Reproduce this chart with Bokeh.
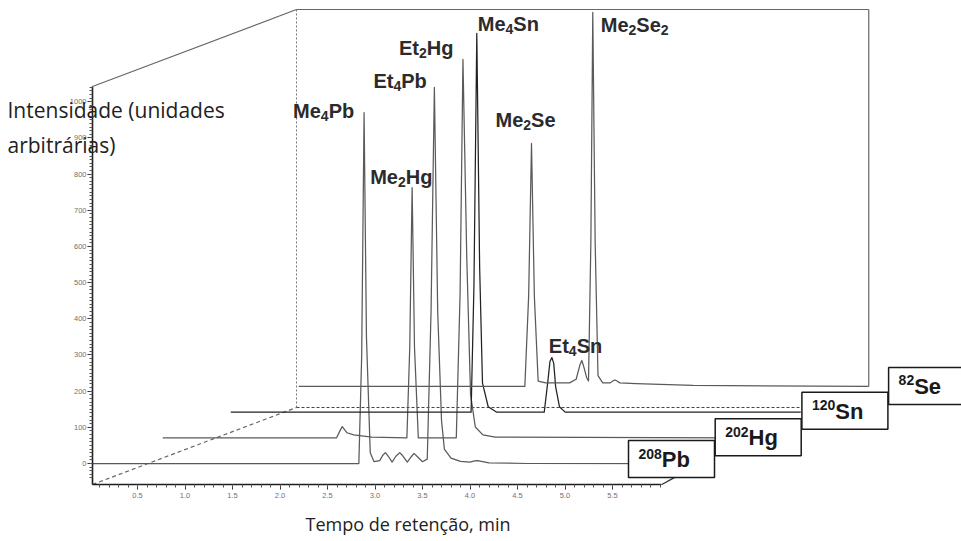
from bokeh.plotting import figure
from bokeh.models import ColumnDataSource, FixedTicker, PrintfTickFormatter, Label, Range1d
from bokeh.embed import file_html
from bokeh.resources import INLINE
from bokeh.core.properties import value

# ---------------- data ----------------
# traces, front (208Pb) to back (82Se); time in min, intensity in arbitrary units
isotope_mass = ["208", "202", "120", "82"]
isotope_element = ["Pb", "Hg", "Sn", "Se"]

pb_time = [0.03, 2.83, 2.86, 2.885, 2.91, 2.95, 2.99, 3.05, 3.08, 3.11, 3.14, 3.18, 3.22, 3.26,
           3.29, 3.34, 3.38, 3.41, 3.45, 3.50, 3.55, 3.59, 3.625, 3.66, 3.70, 3.73, 3.80,
           3.90, 4.00, 4.05, 4.08, 4.12, 4.20, 4.60, 6.05]
pb_intensity = [0, 0, 300, 970, 350, 30, 5, 8, 22, 30, 20, 4, 20, 30,
                22, 4, 18, 28, 18, 5, 12, 420, 1040, 420, 120, 40, 15,
                6, 4, 7, 8, 6, 2, 0, 0]

hg_time = [0.05, 1.88, 1.92, 1.94, 1.96, 1.99, 2.06, 2.25, 2.62, 2.65, 2.675, 2.70, 2.74,
           3.14, 3.18, 3.21, 3.25, 3.29, 3.34, 3.42, 3.55, 6.05]
hg_intensity = [0, 0, 22, 31, 24, 14, 8, 2, 0, 250, 692, 250, 0,
                0, 400, 1046, 500, 120, 30, 8, 2, 0]

sn_time = [0.05, 2.58, 2.61, 2.64, 2.67, 2.70, 2.76, 2.85, 3.35, 3.39, 3.41, 3.43, 3.45,
           3.47, 3.51, 3.57, 6.05]
sn_intensity = [0, 0, 350, 1047, 400, 80, 15, 0, 0, 90, 140, 151, 135, 70, 15, 0, 0]

se_time = [0.05, 2.43, 2.47, 2.50, 2.53, 2.57, 2.65, 2.90, 2.97, 3.01, 3.03, 3.05, 3.08,
           3.10, 3.125, 3.145, 3.17, 3.20, 3.25, 3.33, 3.36, 3.38, 3.40, 3.43, 3.60, 4.20, 6.05]
se_intensity = [0, 0, 250, 672, 250, 15, 10, 10, 20, 60, 72, 55, 25,
                15, 400, 1034, 400, 30, 10, 10, 16, 18, 15, 10, 8, 3, 0]

# peak labels: text parts (text, is_subscript), trace index, retention time of apex
peak_labels = [
    [("Me", 0), ("4", 1), ("Pb", 0)],
    [("Me", 0), ("2", 1), ("Hg", 0)],
    [("Et", 0), ("4", 1), ("Pb", 0)],
    [("Et", 0), ("2", 1), ("Hg", 0)],
    [("Me", 0), ("4", 1), ("Sn", 0)],
    [("Me", 0), ("2", 1), ("Se", 0)],
    [("Et", 0), ("4", 1), ("Sn", 0)],
    [("Me", 0), ("2", 1), ("Se", 0), ("2", 1)],
]
peak_trace = [0, 1, 0, 1, 2, 3, 2, 3]
peak_time = [2.885, 2.675, 3.625, 3.21, 2.64, 2.50, 3.43, 3.145]

x_major_ticks = [0.5, 1.0, 1.5, 2.0, 2.5, 3.0, 3.5, 4.0, 4.5, 5.0, 5.5]
x_minor_ticks = [round(0.1 * i, 1) for i in range(1, 61)]
y_major_ticks = [0, 100, 200, 300, 400, 500, 600, 700, 800, 900, 1000]
y_minor_ticks = [v for v in range(-40, 1041, 10)]

y_title = ["Intensidade (unidades", "arbitrárias)"]
x_title = "Tempo de retenção, min"

# ---------------- layout / styling ----------------
W, H = 961, 541
X0_PAGE, SX = 89.5, 95.0      # screen x of t=0, px per minute
Y0_PAGE, SY = 463.0, 0.3617   # screen y of I=0, px per unit
DEPTH_DX, DEPTH_DY = 68.0, 25.67
TEXT_SHIFT = -7               # baseline correction (px)


def tx(px):
    return (px - X0_PAGE) / SX


def iy(py):
    return (Y0_PAGE - py) / SY


DT = DEPTH_DX / SX
DI = DEPTH_DY / SY
AXIS_X_PX, AXIS_Y_PX = 92, 484
T_MIN, T_AXIS_END, T_BOX_END = tx(AXIS_X_PX), 6.02, 6.05
I_MIN, I_TOP = iy(AXIS_Y_PX), iy(86)

LINE_COL = "#5a5a5a"

p = figure(width=W, height=H,
           x_range=Range1d(tx(0), tx(W)),
           y_range=Range1d(iy(H), iy(0)),
           output_backend="svg", toolbar_location=None,
           min_border=0, min_border_left=0, min_border_right=0,
           min_border_top=0, min_border_bottom=0)
p.xgrid.visible = False
p.ygrid.visible = False
p.outline_line_color = None
p.background_fill_color = "white"
p.border_fill_color = "white"

# axes, drawn at the front corner of the 3D box
for ax in (p.xaxis[0], p.yaxis[0]):
    ax.axis_line_color = "#1e1e1e"
    ax.axis_line_width = 1.6
    ax.major_tick_line_color = "#333"
    ax.minor_tick_line_color = "#555"
    ax.major_tick_in = 0
    ax.minor_tick_in = 0
    ax.major_tick_out = 5
    ax.minor_tick_out = 3
    ax.major_label_text_font = "Liberation Sans"
    ax.major_label_text_font_size = "7.5px"
    ax.major_label_text_color = "#707070"

p.xaxis.fixed_location = I_MIN
p.xaxis.bounds = (T_MIN, T_AXIS_END)
p.xaxis.ticker = FixedTicker(ticks=x_major_ticks, minor_ticks=x_minor_ticks)
p.xaxis.formatter = PrintfTickFormatter(format="%.1f")
p.xaxis.major_label_standoff = 3
p.yaxis.fixed_location = T_MIN
p.yaxis.bounds = (I_MIN, I_TOP)
p.yaxis.ticker = FixedTicker(ticks=y_major_ticks, minor_ticks=y_minor_ticks)
p.yaxis.major_label_standoff = 1

# end of the time axis bends up to the 208Pb box
p.line([T_AXIS_END, T_AXIS_END + 0.13], [I_MIN, I_MIN + 19], line_color="#333", line_width=1.3)

# 3D box
bt0, bi0 = T_MIN + 3 * DT, I_MIN + 3 * DI
btop = I_TOP + 3 * DI
bt1 = T_BOX_END + 3 * DT
p.line([T_MIN, bt0], [I_TOP, btop], line_color="#666", line_width=1.2)
p.line([T_MIN, bt0], [I_MIN, bi0], line_color="#666", line_width=1.2, line_dash="4 3")
p.line([bt0, bt0], [bi0, btop], line_color="#777", line_width=1, line_dash="2 2")
p.line([bt0, bt1], [btop, btop], line_color="#666", line_width=1.2)
p.line([bt1, bt1], [btop, 3 * DI], line_color="#666", line_width=1.2)
p.line([bt0, bt1], [bi0, bi0], line_color="#444", line_width=1, line_dash="3 2")

# traces
traces = [(pb_time, pb_intensity), (hg_time, hg_intensity),
          (sn_time, sn_intensity), (se_time, se_intensity)]
trace_cols = [LINE_COL, LINE_COL, "#222", LINE_COL]
for k, (ts, vs) in enumerate(traces):
    p.line([t + k * DT for t in ts], [v + k * DI for v in vs],
           line_color=trace_cols[k], line_width=1.25, line_join="round")

# peak labels
ARIAL_BOLD = {"M": 833, "e": 556, "P": 667, "b": 611, "E": 667, "t": 333, "H": 722,
              "g": 611, "S": 667, "n": 611, "0": 556, "1": 556, "2": 556, "3": 556,
              "4": 556, "5": 556, "6": 556, "7": 556, "8": 556, "9": 556}


def twidth(s, size):
    return sum(ARIAL_BOLD.get(c, 600) for c in s) * size / 1000.0


MAIN_SIZE, SUB_SIZE, SUB_DROP = 20, 14, 5
label_offsets = [(-71, 5), (-42, -4), (-61, 1), (-64, -4), (1, -2), (-36, -16), (-3, -5), (8, 20)]

lx, ly, ltxt, ldx, ldy, lsize = [], [], [], [], [], []
for parts, k, t, (ox, oy) in zip(peak_labels, peak_trace, peak_time, label_offsets):
    ts, vs = traces[k]
    apex = vs[ts.index(t)]
    cx = ox
    for s, sub in parts:
        size = SUB_SIZE if sub else MAIN_SIZE
        lx.append(t + k * DT)
        ly.append(apex + k * DI)
        ltxt.append(s)
        ldx.append(cx)
        ldy.append(oy + TEXT_SHIFT + (SUB_DROP if sub else 0))
        lsize.append(f"{size}px")
        cx += twidth(s, size)

src = ColumnDataSource(dict(x=lx, y=ly, text=ltxt, dx=ldx, dy=ldy, size=lsize))
p.text(x="x", y="y", text="text", source=src, x_offset="dx", y_offset="dy",
       text_font=value("Liberation Sans"), text_font_style="bold", text_font_size="size",
       text_color="#2b2b2b", text_baseline="alphabetic", text_align="left")

# isotope boxes
BOX_W, BOX_H = 86, 37
box_left_px = [628 + 86.7 * k for k in range(4)]
box_nudge = [-4, 0, -1, 0]
bl, br, bt, bb = [], [], [], []
for k in range(4):
    base_py = Y0_PAGE - k * DEPTH_DY
    top_py = base_py - 19 + box_nudge[k]
    bl.append(tx(box_left_px[k]))
    br.append(tx(box_left_px[k] + BOX_W))
    bt.append(iy(top_py))
    bb.append(iy(top_py + BOX_H))
p.quad(left=bl, right=br, top=bt, bottom=bb, fill_color="white",
       line_color="#1a1a1a", line_width=1.5)

ix, iyy, itxt, idx, idy, isz = [], [], [], [], [], []
for k in range(4):
    for s, size, dx, dy in ((isotope_mass[k], 14, 10, -6),
                            (isotope_element[k], 22, 10 + twidth(isotope_mass[k], 14), 0)):
        ix.append(bl[k])
        iyy.append(bb[k])
        itxt.append(s)
        idx.append(dx)
        idy.append(dy - 11 + TEXT_SHIFT)
        isz.append(f"{size}px")
isrc = ColumnDataSource(dict(x=ix, y=iyy, text=itxt, dx=idx, dy=idy, size=isz))
p.text(x="x", y="y", text="text", source=isrc, x_offset="dx", y_offset="dy",
       text_font=value("Liberation Sans"), text_font_style="bold", text_font_size="size",
       text_color="#1a1a1a", text_baseline="alphabetic", text_align="left")

# axis titles
for line_txt, base in zip(y_title, (116, 151)):
    p.add_layout(Label(x=tx(7), y=iy(base + TEXT_SHIFT), text=line_txt, text_font="Open Sans",
                       text_font_size="21px", text_color="#222", text_baseline="alphabetic"))
p.add_layout(Label(x=tx(305), y=iy(530 + TEXT_SHIFT), text=x_title, text_font="Open Sans",
                   text_font_size="18px", text_color="#222", text_baseline="alphabetic"))

open("out.html", "w").write(file_html(p, INLINE))
